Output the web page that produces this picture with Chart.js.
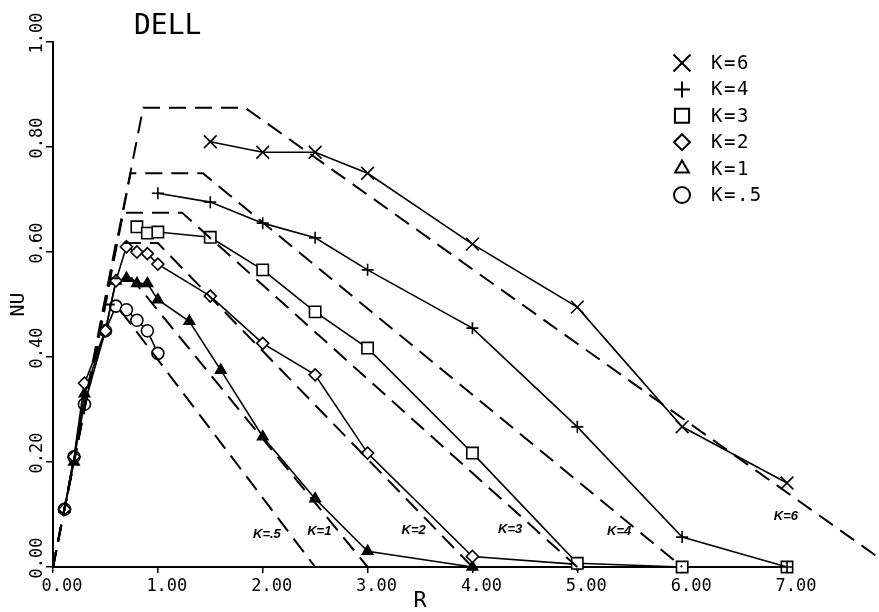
<!DOCTYPE html>
<html>
<head>
<meta charset="utf-8">
<script src="https://cdn.jsdelivr.net/npm/chart.js@4.4.1/dist/chart.umd.min.js"></script>
<style>
  html, body { margin: 0; padding: 0; background: #fff; }
  #wrap { width: 879px; height: 612px; }
</style>
</head>
<body>
<div id="wrap"><canvas id="nuChart" width="879" height="612"></canvas></div>
<script>
/* ---------------- DATA ---------------- */

const SERIES_LABELS = ["K=6", "K=4", "K=3", "K=2", "K=1", "K=.5"];

const X_TICKS = [0, 1, 2, 3, 4, 5, 6, 7];
const Y_TICKS = [0, 0.2, 0.4, 0.6, 0.8, 1.0];

// measured points (solid lines with markers)
const R_K6  = [1.5, 2.0, 2.5, 3.0, 4.0, 5.0, 6.0, 7.0];
const NU_K6 = [0.81, 0.79, 0.79, 0.75, 0.615, 0.495, 0.267, 0.16];

const R_K4  = [1.0, 1.5, 2.0, 2.5, 3.0, 4.0, 5.0, 6.0, 7.0];
const NU_K4 = [0.712, 0.695, 0.655, 0.627, 0.566, 0.455, 0.267, 0.057, 0.0];

const R_K3  = [0.8, 0.9, 1.0, 1.5, 2.0, 2.5, 3.0, 4.0, 5.0, 6.0, 7.0];
const NU_K3 = [0.648, 0.636, 0.638, 0.628, 0.566, 0.486, 0.417, 0.217, 0.007, 0.0, 0.0];

const R_K2  = [0.11, 0.2, 0.3, 0.5, 0.6, 0.7, 0.8, 0.9, 1.0, 1.5, 2.0, 2.5, 3.0, 4.0, 5.0];
const NU_K2 = [0.11, 0.21, 0.35, 0.45, 0.545, 0.61, 0.6, 0.597, 0.577, 0.516, 0.426, 0.366, 0.217, 0.02, 0.005];

const R_K1  = [0.11, 0.2, 0.3, 0.5, 0.6, 0.7, 0.8, 0.9, 1.0, 1.3, 1.6, 2.0, 2.5, 3.0, 4.0];
const NU_K1 = [0.11, 0.2, 0.33, 0.45, 0.545, 0.55, 0.54, 0.54, 0.509, 0.468, 0.375, 0.248, 0.13, 0.03, 0.0];

const R_K05  = [0.11, 0.2, 0.3, 0.5, 0.6, 0.7, 0.8, 0.9, 1.0];
const NU_K05 = [0.11, 0.21, 0.31, 0.45, 0.497, 0.49, 0.47, 0.45, 0.407];

// theory (dashed): rise from origin, plateau, linear fall to zero
const THEORY_PEAK_R     = [0.86, 0.74, 0.67, 0.6, 0.55, 0.5];
const THEORY_PLATEAU_NU = [0.875, 0.75, 0.675, 0.617, 0.55, 0.5];
const THEORY_END_R      = [1.83, 1.43, 1.23, 1.0, 0.75, 0.6];
const THEORY_ZERO_R     = [8.0, 6.0, 5.0, 4.0, 3.0, 2.5];

// hand written tags near the dashed lines (R, Nu)
const TAG_TEXT = ["K=6", "K=4", "K=3", "K=2", "K=1", "K=.5"];
const TAG_R    = [6.99, 5.40, 4.36, 3.44, 2.54, 2.04];
const TAG_NU   = [0.097, 0.067, 0.072, 0.069, 0.067, 0.063];

/* ---------------- STYLE ---------------- */

const INK = "#000";
const MONO = "'DejaVu Sans Mono', monospace";
const POINT_STYLES = ["crossRot", "cross", "rect", "rectRot", "triangle", "circle"];
const POINT_RADII  = [9, 6, 8, 6, 6, 6];
const POINT_FILLS  = ["#fff", "#fff", "#fff", "#fff", "#000", "#fff"];
const LEGEND_RADII = [12, 8, 10, 8, 8, 8];

const MEASURED = [
  [R_K6, NU_K6], [R_K4, NU_K4], [R_K3, NU_K3],
  [R_K2, NU_K2], [R_K1, NU_K1], [R_K05, NU_K05]
];

/* ---------------- DATASETS ---------------- */

const datasets = [];

THEORY_PEAK_R.forEach((peakR, i) => {
  const nu = THEORY_PLATEAU_NU[i];
  datasets.push({
    label: "theory " + SERIES_LABELS[i],
    data: [
      { x: 0, y: 0 },
      { x: peakR, y: nu },
      { x: THEORY_END_R[i], y: nu },
      { x: THEORY_ZERO_R[i], y: 0 }
    ],
    showLine: true,
    borderColor: INK,
    borderWidth: 2,
    borderDash: [17, 9],
    pointRadius: 0,
    clip: false
  });
});

MEASURED.forEach(([rs, nus], i) => {
  datasets.push({
    label: SERIES_LABELS[i],
    data: rs.map((r, k) => ({ x: r, y: nus[k] })),
    showLine: true,
    borderColor: INK,
    borderWidth: 1.6,
    pointStyle: POINT_STYLES[i],
    pointRadius: POINT_RADII[i],
    pointBorderWidth: 1.6,
    pointBorderColor: INK,
    pointBackgroundColor: POINT_FILLS[i],
    clip: false
  });
});

/* ---------------- DECOR ---------------- */

const decorPlugin = {
  id: "decor",
  afterDraw(chart) {
    const ctx = chart.ctx;
    const xs = chart.scales.x;
    const ys = chart.scales.y;
    ctx.save();
    ctx.fillStyle = INK;
    ctx.strokeStyle = INK;

    // title
    ctx.font = "28px " + MONO;
    ctx.textAlign = "left";
    ctx.textBaseline = "alphabetic";
    ctx.fillText("DELL", 134, 34);

    // legend
    SERIES_LABELS.forEach((lab, i) => {
      const y = 63 + i * 26.4;
      ctx.lineWidth = 2;
      ctx.fillStyle = "#fff";
      if (Chart.helpers && Chart.helpers.drawPoint) {
        Chart.helpers.drawPoint(ctx, {
          pointStyle: POINT_STYLES[i], radius: LEGEND_RADII[i], rotation: 0, borderWidth: 2
        }, 682, y);
      }
      ctx.fillStyle = INK;
      ctx.font = "19px " + MONO;
      ctx.letterSpacing = "1.5px";
      ctx.textAlign = "left";
      ctx.textBaseline = "middle";
      ctx.fillText(lab, 711, y + 1);
      ctx.letterSpacing = "0px";
    });

    // tags near dashed lines
    ctx.font = "italic bold 13px 'Liberation Sans', sans-serif";
    ctx.textAlign = "center";
    ctx.textBaseline = "middle";
    TAG_TEXT.forEach((t, i) => {
      ctx.fillText(t, xs.getPixelForValue(TAG_R[i]), ys.getPixelForValue(TAG_NU[i]));
    });

    ctx.restore();
  }
};

/* ---------------- CHART ---------------- */

new Chart(document.getElementById("nuChart"), {
  type: "scatter",
  data: { datasets },
  plugins: [decorPlugin],
  options: {
    responsive: false,
    animation: false,
    devicePixelRatio: 1,
    layout: { padding: { left: 0, right: 92, top: 42, bottom: 0 } },
    elements: { line: { tension: 0 } },
    plugins: {
      legend: { display: false },
      tooltip: { enabled: false }
    },
    scales: {
      x: {
        type: "linear",
        min: 0,
        max: 7,
        afterFit: s => { s.height = 45; },
        afterBuildTicks: s => { s.ticks = X_TICKS.map(v => ({ value: v })); },
        border: { display: true, color: INK, width: 2 },
        grid: { display: true, drawOnChartArea: false, drawTicks: true, tickLength: 6, color: INK, lineWidth: 1.5 },
        ticks: {
          color: INK,
          font: { family: MONO, size: 17 },
          padding: 3,
          labelOffset: 9,
          maxRotation: 0,
          callback: v => Number(v).toFixed(2)
        },
        title: {
          display: true,
          text: "R",
          color: INK,
          font: { family: MONO, size: 22, lineHeight: 1 },
          padding: { top: 0, bottom: 0 }
        }
      },
      y: {
        type: "linear",
        min: 0,
        max: 1,
        afterFit: s => { s.width = 53; },
        afterBuildTicks: s => { s.ticks = Y_TICKS.map(v => ({ value: v })); },
        border: { display: true, color: INK, width: 2 },
        grid: { display: true, drawOnChartArea: false, drawTicks: true, tickLength: 7, color: INK, lineWidth: 1.5 },
        ticks: {
          color: INK,
          font: { family: MONO, size: 17 },
          minRotation: 90,
          maxRotation: 90,
          crossAlign: "center",
          padding: -12,
          labelOffset: -9,
          callback: v => Number(v).toFixed(2)
        },
        title: {
          display: true,
          text: "NU",
          color: INK,
          font: { family: MONO, size: 20, lineHeight: 1 },
          padding: { top: 9, bottom: 0 }
        }
      }
    }
  }
});
</script>
</body>
</html>
